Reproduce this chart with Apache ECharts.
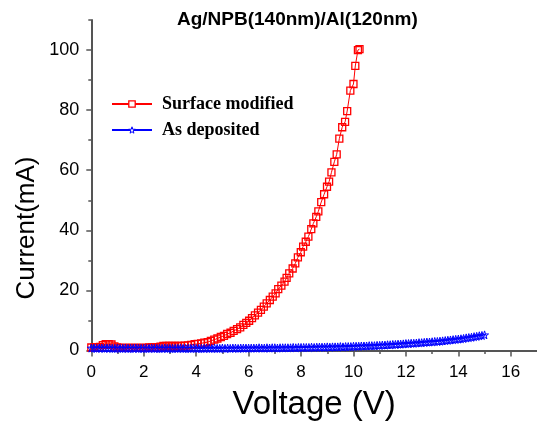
<!DOCTYPE html>
<html>
<head>
<meta charset="utf-8">
<script src="https://cdn.jsdelivr.net/npm/echarts@6/dist/echarts.min.js"></script>
<style>
html,body{margin:0;padding:0;background:#fff;}
#chart{width:537px;height:430px;}
</style>
</head>
<body>
<div id="chart"></div>
<script>
// Voltage (V) and current (mA) readings
const redV = [0.00,0.11,0.22,0.33,0.44,0.55,0.66,0.77,0.88,0.99,1.10,1.21,1.32,1.43,1.54,1.65,1.76,1.87,1.98,2.09,2.20,2.31,2.42,2.53,2.64,2.75,2.86,2.97,3.08,3.19,3.30,3.41,
  3.56,3.69,3.81,3.94,4.06,4.19,4.31,4.44,4.56,4.69,4.81,4.94,5.06,5.18,5.31,5.43,5.56,5.68,5.80,5.91,
  6.02,6.13,6.24,6.36,6.47,6.58,6.69,6.81,6.92,7.03,7.13,7.25,7.37,7.45,7.55,7.68,7.78,7.88,7.99,
  8.08,8.18,8.28,8.39,8.47,8.58,8.66,8.77,8.88,8.99,9.07,9.16,9.27,9.36,9.46,9.57,9.68,9.76,9.88,
  10.00,10.07,10.17,10.23];
const redI = [1.0,1.0,1.1,1.2,1.8,2.1,2.1,2.0,1.4,1.0,0.9,0.9,0.9,0.9,0.9,0.9,0.9,0.9,0.9,0.9,1.0,1.0,1.0,1.1,1.3,1.5,1.5,1.5,1.5,1.5,1.5,1.5,
  1.6,1.7,1.9,2.1,2.2,2.4,2.6,2.8,3.2,3.6,4.0,4.5,4.9,5.5,5.9,6.5,7.1,7.7,8.5,9.2,
  9.9,10.8,11.7,12.6,13.5,14.6,15.7,16.8,17.9,19.0,20.4,21.6,22.9,24.2,25.7,27.3,29.0,31.0,32.7,
  34.6,36.2,37.9,40.4,42.3,44.5,46.3,49.4,52.0,54.5,56.2,59.3,62.8,65.3,70.5,74.3,76.1,79.7,86.5,
  88.7,94.7,100.0,100.3];

const blueV = [0.0,0.1,0.2,0.3,0.4,0.5,0.6,0.7,0.8,0.9,1.0,1.1,1.2,1.3,1.4,1.5,1.6,1.7,1.8,1.9,2.0,
  2.1,2.2,2.3,2.4,2.5,2.6,2.7,2.8,2.9,3.0,3.1,3.2,3.3,3.4,3.5,3.6,3.7,3.8,3.9,4.0,
  4.1,4.2,4.3,4.4,4.5,4.6,4.7,4.8,4.9,5.0,5.1,5.2,5.3,5.4,5.5,5.6,5.7,5.8,5.9,6.0,
  6.1,6.2,6.3,6.4,6.5,6.6,6.7,6.8,6.9,7.0,7.1,7.2,7.3,7.4,7.5,7.6,7.7,7.8,7.9,8.0,
  8.1,8.2,8.3,8.4,8.5,8.6,8.7,8.8,8.9,9.0,9.1,9.2,9.3,9.4,9.5,9.6,9.7,9.8,9.9,10.0,
  10.1,10.2,10.3,10.4,10.5,10.6,10.7,10.8,10.9,11.0,
  11.1,11.2,11.3,11.4,11.5,11.6,11.7,11.8,11.9,12.0,
  12.1,12.2,12.3,12.4,12.5,12.6,12.7,12.8,12.9,13.0,
  13.1,13.2,13.3,13.4,13.5,13.6,13.7,13.8,13.9,14.0,
  14.1,14.2,14.3,14.4,14.5,14.6,14.7,14.8,14.9,15.0];
const blueI = [0.8,0.8,0.7,0.8,0.8,0.7,0.8,0.8,0.7,0.7,0.8,0.7,0.7,0.8,0.7,0.7,0.7,0.8,0.7,0.7,0.7,
  0.7,0.7,0.8,0.7,0.7,0.7,0.7,0.8,0.7,0.7,0.7,0.7,0.7,0.8,0.7,0.7,0.7,0.7,0.8,0.7,
  0.7,0.7,0.7,0.8,0.7,0.7,0.8,0.7,0.7,0.8,0.7,0.8,0.7,0.8,0.8,0.7,0.8,0.8,0.8,0.8,
  0.8,0.8,0.8,0.9,0.8,0.8,0.9,0.8,0.9,0.9,0.8,0.9,0.9,0.9,0.9,0.9,1.0,0.9,1.0,1.0,
  1.0,1.0,1.0,1.1,1.0,1.1,1.1,1.1,1.1,1.2,1.1,1.2,1.2,1.2,1.3,1.2,1.3,1.3,1.3,1.4,
  1.4,1.4,1.5,1.5,1.5,1.6,1.6,1.6,1.7,1.7,
  1.8,1.8,1.9,1.9,2.0,2.0,2.1,2.1,2.2,2.3,
  2.3,2.4,2.4,2.5,2.6,2.6,2.7,2.8,2.8,2.9,
  3.0,3.0,3.1,3.2,3.3,3.4,3.5,3.6,3.7,3.8,
  3.9,4.0,4.2,4.3,4.4,4.6,4.7,4.9,5.0,5.2];

const xMajor = [0,2,4,6,8,10,12,14,16];
const xMinor = [1,3,5,7,9,11,13,15];
const yMajor = [0,20,40,60,80,100];
const yMinor = [10,30,50,70,90,110];

const seriesNames = ['Surface modified','As deposited'];
const titleText = 'Ag/NPB(140nm)/Al(120nm)';
const xName = 'Voltage (V)';
const yName = 'Current(mA)';

const redData = redV.map((v,i)=>[v, redI[i]]);
const blueData = blueV.map((v,i)=>[v, blueI[i]]);

const STAR = 'path://M50,0 L61,35 L98,35 L68,57 L79,91 L50,70 L21,91 L32,57 L2,35 L39,35 Z';
const axisCol = '#555';
const sans = 'Liberation Sans, Arial, sans-serif';
const serif = 'Liberation Serif, Times New Roman, serif';

const chart = echarts.init(document.getElementById('chart'), null, {renderer:'canvas'});
chart.setOption({
  animation:false,
  backgroundColor:'#ffffff',
  title:{
    text:titleText, left:172, top:5,
    textStyle:{fontFamily:sans, fontWeight:'bold', fontSize:19, color:'#000'}
  },
  legend:{
    orient:'vertical', left:106, top:90, itemWidth:40, itemHeight:8, itemGap:8,
    data:[
      {name:seriesNames[0], itemStyle:{color:'#ffffff', borderColor:'#ff0000', borderWidth:1.3}},
      {name:seriesNames[1], itemStyle:{color:'#ffffff', borderColor:'#0000ff', borderWidth:1}}
    ],
    textStyle:{fontFamily:serif, fontWeight:'bold', fontSize:18, color:'#000', lineHeight:18, padding:[0,0,0,5]}
  },
  grid:{left:91.3, top:20, right:-9, bottom:79.5, containLabel:false},
  xAxis:[{
    type:'value', min:0, max:17, position:'bottom',
    name:xName, nameLocation:'middle', nameGap:38,
    nameTextStyle:{fontFamily:sans, fontSize:33, color:'#000'},
    axisLine:{show:true, onZero:false, lineStyle:{color:axisCol, width:2}},
    axisTick:{show:true, inside:false, length:6, customValues:xMajor, lineStyle:{color:axisCol, width:1.5}},
    axisLabel:{customValues:xMajor, margin:13, fontFamily:sans, fontSize:17, color:'#000'},
    splitLine:{show:false}
  },{
    type:'value', min:0, max:17, position:'bottom',
    axisLine:{show:false},
    axisTick:{show:true, length:3.5, customValues:xMinor, lineStyle:{color:axisCol, width:1.5}},
    axisLabel:{show:false}, splitLine:{show:false}
  }],
  yAxis:[{
    type:'value', min:0, max:110, position:'left',
    axisLine:{show:true, onZero:false, lineStyle:{color:axisCol, width:2}},
    axisTick:{show:true, length:5, customValues:yMajor, lineStyle:{color:axisCol, width:1.5}},
    axisLabel:{customValues:yMajor, margin:12, fontFamily:sans, fontSize:18, color:'#000'},
    splitLine:{show:false}
  },{
    type:'value', min:0, max:110, position:'left',
    axisLine:{show:false},
    axisTick:{show:true, length:3, customValues:yMinor, lineStyle:{color:axisCol, width:1.5}},
    axisLabel:{show:false}, splitLine:{show:false}
  }],
  graphic:[{
    type:'text', x:27, y:228, rotation:Math.PI/2,
    style:{text:yName, fontFamily:sans, fontSize:26, fill:'#000', textAlign:'center', textVerticalAlign:'middle'}
  }],
  series:[{
    name:seriesNames[0], type:'line', data:redData, xAxisIndex:0, yAxisIndex:0,
    symbol:'rect', symbolSize:7, showAllSymbol:true,
    lineStyle:{color:'#ff0000', width:1},
    itemStyle:{color:'rgba(255,255,255,0)', borderColor:'#ff0000', borderWidth:1.3},
    emphasis:{disabled:true}
  },{
    name:seriesNames[1], type:'line', data:blueData, xAxisIndex:0, yAxisIndex:0,
    symbol:STAR, symbolSize:8, showAllSymbol:true,
    lineStyle:{color:'#0000ff', width:1},
    itemStyle:{color:'rgba(255,255,255,0)', borderColor:'#0000ff', borderWidth:1},
    emphasis:{disabled:true}
  }]
});
</script>
</body>
</html>
